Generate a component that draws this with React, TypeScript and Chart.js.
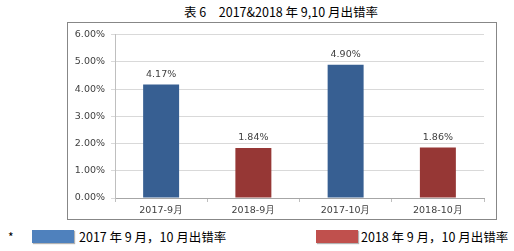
import React, { useEffect, useRef } from "react";
import { Chart, registerables } from "chart.js";

Chart.register(...registerables);

const categories = ["2017-9月", "2018-9月", "2017-10月", "2018-10月"];
const values = [4.17, 1.84, 4.9, 1.86];
const barColors = ["#375F92", "#963735", "#375F92", "#963735"];
const yTicks = [0, 1, 2, 3, 4, 5, 6];
const titleText = "表 6　2017&2018 年 9,10 月出错率";
const legendItems = [
  { label: "2017 年 9 月，10 月出错率", color: "#4F81BD" },
  { label: "2018 年 9 月，10 月出错率", color: "#C0504D" },
];

const valueLabels = {
  id: "valueLabels",
  afterDatasetsDraw(chart: any) {
    const ctx = chart.ctx;
    const meta = chart.getDatasetMeta(0);
    ctx.save();
    ctx.font = "9.5px 'DejaVu Sans'";
    ctx.fillStyle = "#404040";
    ctx.textAlign = "center";
    ctx.textBaseline = "middle";
    meta.data.forEach((el: any, i: number) => {
      ctx.fillText(values[i].toFixed(2) + "%", el.x, el.y - 10);
    });
    ctx.restore();
  },
};

export default function App() {
  const ref = useRef<HTMLCanvasElement | null>(null);
  useEffect(() => {
    if (!ref.current) return;
    const chart = new Chart(ref.current, {
      type: "bar",
      data: {
        labels: categories,
        datasets: [
          {
            data: values,
            backgroundColor: barColors,
            borderWidth: 0,
            barPercentage: 0.39,
            categoryPercentage: 1,
          },
        ],
      },
      options: {
        animation: false,
        responsive: false,
        maintainAspectRatio: false,
        layout: { padding: { left: 0, right: 12, top: 9, bottom: 0 } },
        plugins: { legend: { display: false }, tooltip: { enabled: false } },
        scales: {
          x: {
            grid: {
              drawOnChartArea: false,
              drawTicks: true,
              tickLength: 4,
              color: "#BFBFBF",
              offset: true,
            },
            border: { color: "#A6A6A6" },
            ticks: {
              font: { family: "'DejaVu Sans'", size: 9.5 },
              color: "#404040",
              padding: 3,
              maxRotation: 0,
            },
            afterFit: (s: any) => {
              s.height = 21;
            },
          },
          y: {
            min: 0,
            max: 6,
            afterBuildTicks: (s: any) => {
              s.ticks = yTicks.map((v) => ({ value: v }));
            },
            grid: { color: "#D9D9D9", tickLength: 4, lineWidth: 1 },
            border: { color: "#BFBFBF" },
            ticks: {
              font: { family: "'DejaVu Sans'", size: 9.5 },
              color: "#404040",
              padding: 6,
              callback: (v: any) => Number(v).toFixed(2) + "%",
            },
            afterFit: (s: any) => {
              s.width = 47;
            },
          },
        },
      },
      plugins: [valueLabels],
    });
    return () => chart.destroy();
  }, []);

  return (
    <div
      style={{
        position: "absolute",
        left: 0,
        top: 0,
        width: 514,
        height: 251,
        background: "#fff",
        fontFamily: "'Noto Sans CJK SC', sans-serif",
        color: "#000",
      }}
    >
      <div
        style={{
          position: "absolute",
          left: 0,
          width: 562,
          top: 3,
          textAlign: "center",
          fontSize: 12.5,
          lineHeight: "18px",
          whiteSpace: "pre",
        }}
      >
        {titleText}
      </div>
      <div
        style={{
          position: "absolute",
          left: 67,
          top: 22,
          width: 430,
          height: 198,
          boxSizing: "border-box",
          border: "1px solid #878787",
        }}
      >
        <canvas
          ref={ref}
          width={428}
          height={196}
          style={{ position: "absolute", left: 0, top: 0, width: 428, height: 196 }}
        />
      </div>
      <div style={{ position: "absolute", left: 8, top: 228, fontSize: 12, lineHeight: "18px" }}>*</div>
      {legendItems.map((it, i) => (
        <React.Fragment key={i}>
          <div
            style={{
              position: "absolute",
              left: i === 0 ? 32 : 316,
              top: 230,
              width: 42,
              height: 13,
              background: it.color,
              boxShadow: "1px 1px 1px rgba(0,0,0,0.3)",
            }}
          />
          <div
            style={{
              position: "absolute",
              left: i === 0 ? 79 : 361,
              top: 228,
              fontSize: 12.5,
              lineHeight: "18px",
              whiteSpace: "pre",
            }}
          >
            {it.label}
          </div>
        </React.Fragment>
      ))}
    </div>
  );
}
